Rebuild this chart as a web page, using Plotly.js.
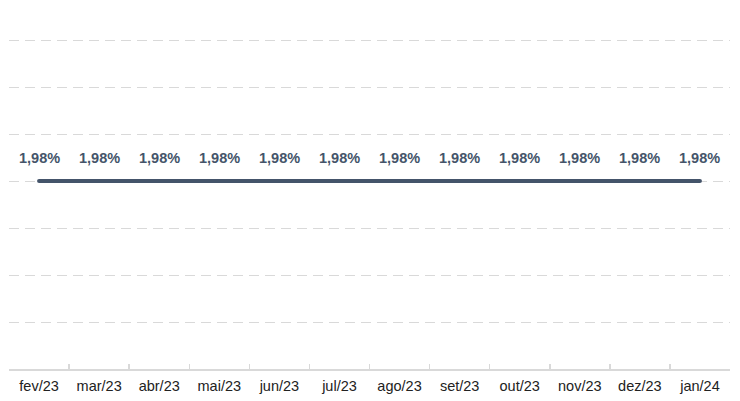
<!DOCTYPE html>
<html>
<head>
<meta charset="utf-8">
<script src="https://cdn.plot.ly/plotly-3.0.1.min.js"></script>
<style>
html,body{margin:0;padding:0;background:#fff;}
#chart{width:740px;height:401px;}
</style>
</head>
<body>
<div id="chart"></div>
<script>
var months = ['fev/23','mar/23','abr/23','mai/23','jun/23','jul/23','ago/23','set/23','out/23','nov/23','dez/23','jan/24'];
var rates = [1.98,1.98,1.98,1.98,1.98,1.98,1.98,1.98,1.98,1.98,1.98,1.98];
var labels = rates.map(function(v){return v.toFixed(2).replace('.',',')+'%';});

var FONT = '"Liberation Sans Narrow","Arial Narrow","Liberation Sans",Arial,sans-serif';
var lineColor = '#44546a';

var trace = {
  type:'scatter', mode:'lines', x:months, y:rates,
  line:{color:lineColor, width:4},
  hoverinfo:'skip', showlegend:false
};

var annotations = months.map(function(m,i){
  return {x:m, y:rates[i], xref:'x', yref:'y', text:'<b>'+labels[i]+'</b>', showarrow:false,
    yshift:23, font:{family:FONT, size:14.5, color:lineColor}};
});

var step = 0.495;
var layout = {
  width:740, height:401,
  margin:{l:9, r:10, t:35, b:32, pad:0},
  paper_bgcolor:'#fff', plot_bgcolor:'#fff',
  font:{family:FONT, size:14, color:'#222'},
  showlegend:false,
  xaxis:{type:'category', range:[-0.5,11.5], showgrid:false, showline:true, linecolor:'#d9d9d9', linewidth:1.5,
    ticks:'inside', tickson:'boundaries', ticklen:5, tickcolor:'#d9d9d9', tickwidth:1.5,
    ticklabelstandoff:3,
    tickfont:{family:FONT, size:14.5, color:'#222'}, fixedrange:true},
  yaxis:{range:[0,3.5177], tick0:0, dtick:step, showticklabels:false, showgrid:true, gridcolor:'#d9d9d9', gridwidth:1,
    griddash:'10px,6px', zeroline:false, showline:false, ticks:'', fixedrange:true},
  annotations:annotations
};

Plotly.newPlot('chart',[trace],layout,{displayModeBar:false, staticPlot:true}).then(function(){
  document.querySelectorAll('.js-line').forEach(function(p){p.style.strokeLinecap='round';});
});
</script>
</body>
</html>
